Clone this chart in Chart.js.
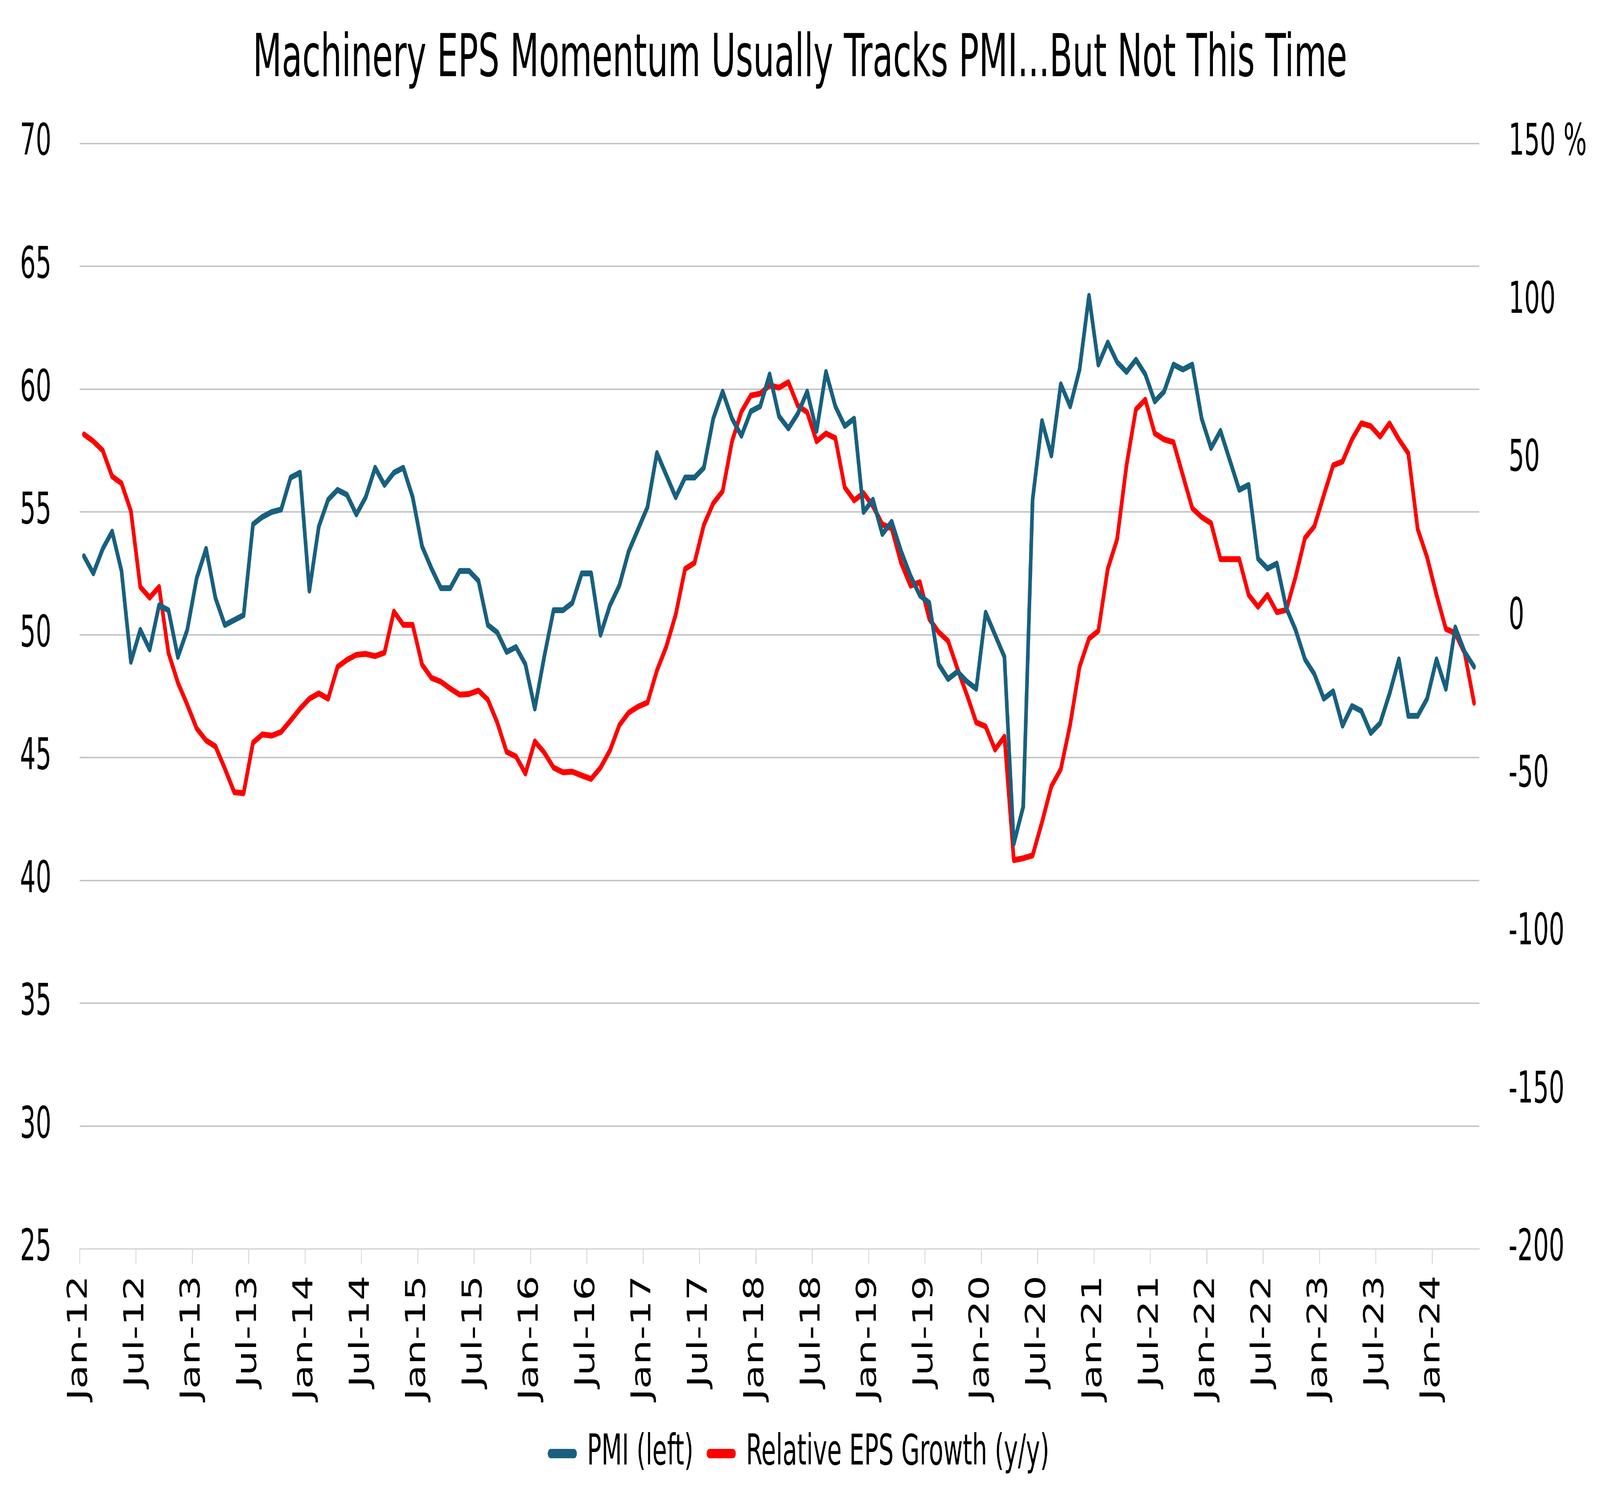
<!DOCTYPE html>
<html><head><meta charset="utf-8">
<script src="https://cdn.jsdelivr.net/npm/chart.js@4.4.1/dist/chart.umd.min.js"></script>
<style>html,body{margin:0;padding:0;background:#fff;overflow:hidden;width:100%;height:100%;}
#c{display:block;position:absolute;left:0;top:0;transform-origin:0 0;}</style>
</head><body><canvas id="c" width="6544" height="3846"></canvas>
<script>
const chartTitle = 'Machinery EPS Momentum Usually Tracks PMI...But Not This Time';
const seriesNames = ['PMI (left)', 'Relative EPS Growth (y/y)'];
const xTickLabels = ['Jan-12','Jul-12','Jan-13','Jul-13','Jan-14','Jul-14','Jan-15','Jul-15','Jan-16','Jul-16','Jan-17','Jul-17','Jan-18','Jul-18','Jan-19','Jul-19','Jan-20','Jul-20','Jan-21','Jul-21','Jan-22','Jul-22','Jan-23','Jul-23','Jan-24'];
const monthsPerTick = 6;
const midMonth = 0.45;   // observations dated mid-month
const totalMonths = 149;  // Jan-12 .. May-24
const pmi = [53.2,52.5,53.5,54.2,52.6,48.9,50.2,49.4,51.2,51.0,
 49.1,50.2,52.3,53.5,51.5,50.4,50.6,50.8,54.5,54.8,
 55.0,55.1,56.4,56.6,51.8,54.4,55.5,55.9,55.7,54.9,
 55.6,56.8,56.1,56.6,56.8,55.6,53.6,52.7,51.9,51.9,
 52.6,52.6,52.2,50.4,50.1,49.3,49.5,48.8,47.0,49.1,
 51.0,51.0,51.3,52.5,52.5,50.0,51.2,52.0,53.4,54.3,
 55.2,57.4,56.5,55.6,56.4,56.4,56.8,58.8,59.9,58.8,
 58.1,59.1,59.3,60.6,58.9,58.4,59.0,59.9,58.3,60.7,
 59.3,58.5,58.8,55.0,55.5,54.1,54.6,53.4,52.4,51.6,
 51.3,48.8,48.2,48.5,48.1,47.8,50.9,50.0,49.1,41.5,
 43.0,55.5,58.7,57.3,60.2,59.3,60.8,63.8,61.0,61.9,
 61.1,60.7,61.2,60.6,59.5,59.9,61.0,60.8,61.0,58.8,
 57.6,58.3,57.1,55.9,56.1,53.1,52.7,52.9,51.1,50.2,
 49.0,48.4,47.4,47.7,46.3,47.1,46.9,46.0,46.4,47.6,
 49.0,46.7,46.7,47.4,49.0,47.8,50.3,49.3,48.7];
const eps = [57.9,55.7,52.8,44.6,42.4,33.6,9.6,6.2,9.6,-11.3,
 -20.7,-27.7,-35.2,-39.0,-40.9,-47.9,-55.4,-55.7,-39.7,-37.1,
 -37.5,-36.3,-32.7,-29.0,-25.8,-24.1,-25.8,-15.7,-13.5,-11.9,
 -11.6,-12.3,-11.2,1.8,-2.4,-2.4,-15.0,-19.2,-20.4,-22.6,
 -24.5,-24.3,-23.2,-26.1,-33.3,-42.6,-44.1,-49.5,-39.3,-42.8,
 -47.6,-49.1,-48.9,-50.1,-51.2,-47.6,-42.2,-34.2,-30.2,-28.3,
 -27.0,-16.9,-9.3,0.8,15.3,17.2,29.2,36.1,39.9,55.7,
 65.1,70.2,70.8,73.4,72.7,74.4,67.0,64.9,55.7,58.2,
 56.7,41.1,37.0,39.3,35.2,29.4,28.1,17.2,10.0,11.1,
 -0.5,-4.7,-7.5,-16.3,-24.5,-33.3,-34.6,-41.9,-37.8,-76.9,
 -76.3,-75.4,-64.9,-53.5,-48.1,-34.0,-15.7,-6.8,-4.3,15.3,
 24.7,48.1,65.8,68.9,58.2,56.3,55.4,44.9,34.5,31.7,
 29.8,18.4,18.4,18.4,7.1,3.3,7.1,1.6,2.3,12.8,
 25.1,28.8,38.6,48.1,49.3,56.3,61.4,60.5,57.2,61.4,
 56.3,51.9,27.9,19.0,7.1,-3.7,-5.0,-11.3,-27.1];
const leftRange = [25, 70, 5];
const rightRange = [-200, 150, 50];

// The chart is laid out on a 6544x3846 page; if the viewport differs, scale the canvas to fill it.
const DW = 6544, DH = 3846;
const cv = document.getElementById('c');
cv.style.width = DW + 'px'; cv.style.height = DH + 'px';
function fit() {
  const W = window.innerWidth || DW, H = window.innerHeight || DH;
  cv.style.transform = 'scale(' + (W / DW) + ',' + (H / DH) + ')';
}
fit();
window.addEventListener('resize', fit);

const FONT = "'DejaVu Sans Condensed', 'Liberation Sans Narrow', sans-serif";
const BLUE = '#18607F';
const RED = '#FF0000';

const toPts = arr => arr.map((v, i) => ({x: i + midMonth, y: v}));

new Chart(cv, {
  type: 'line',
  data: {
    datasets: [
      {label: seriesNames[0], data: toPts(pmi), yAxisID: 'yL', borderColor: BLUE, backgroundColor: BLUE,
       borderWidth: 15, pointRadius: 0, tension: 0, borderCapStyle: 'round', borderJoinStyle: 'round'},
      {label: seriesNames[1], data: toPts(eps), yAxisID: 'yR', borderColor: RED, backgroundColor: RED,
       borderWidth: 15, pointRadius: 0, tension: 0, borderCapStyle: 'round', borderJoinStyle: 'round'}
    ]
  },
  options: {
    responsive: false, devicePixelRatio: 1, animation: false,
    layout: {padding: {left: 0, right: 0, top: 0, bottom: 60}},
    plugins: {
      title: {display: true, text: chartTitle, color: '#000',
              font: {family: FONT, size: 152, weight: 'normal', lineHeight: 1.2},
              padding: {top: 64, bottom: 121}},
      legend: {position: 'bottom',
        labels: {usePointStyle: true, pointStyle: 'line', pointStyleWidth: 95, padding: 66, color: '#000',
          font: {family: FONT, size: 108},
          generateLabels: (chart) => Chart.defaults.plugins.legend.labels.generateLabels(chart)
             .map(l => Object.assign(l, {lineWidth: 24, lineCap: 'round', pointStyle: 'line'}))}},
      tooltip: {enabled: false}
    },
    scales: {
      x: {type: 'linear', min: 0, max: totalMonths,
        afterBuildTicks: sc => { sc.ticks = xTickLabels.map((l, k) => ({value: k * monthsPerTick})); },
        afterFit: sc => { sc.height = 404; },
        ticks: {autoSkip: false, maxRotation: 90, minRotation: 90, padding: 30, color: '#000',
          font: {family: FONT, size: 112},
          callback: (v) => xTickLabels[Math.round(v / monthsPerTick)]},
        grid: {drawOnChartArea: false, drawTicks: true, tickLength: 38, color: '#D9D9D9', lineWidth: 4},
        border: {display: true, color: '#D9D9D9', width: 4}
      },
      yL: {position: 'left', min: leftRange[0], max: leftRange[1],
        afterFit: sc => { sc.width = 326; },
        ticks: {stepSize: leftRange[2], padding: 116, color: '#000', font: {family: FONT, size: 112}},
        grid: {color: '#C0C0C0', lineWidth: 3.5, drawTicks: false},
        border: {display: false}
      },
      yR: {position: 'right', min: rightRange[0], max: rightRange[1],
        afterFit: sc => { sc.width = 494; },
        ticks: {stepSize: rightRange[2], padding: 120, color: '#000', font: {family: FONT, size: 112},
          callback: (v) => v === rightRange[1] ? v + ' %' : String(v)},
        grid: {display: false, drawTicks: false},
        border: {display: false}
      }
    }
  }
});
</script></body></html>
